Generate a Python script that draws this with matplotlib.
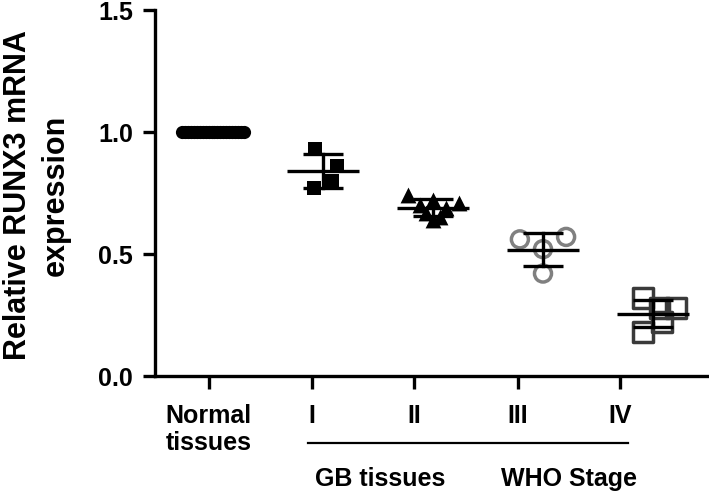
import numpy as np
import matplotlib.pyplot as plt

plt.rcParams['font.family'] = ['Liberation Sans', 'DejaVu Sans']
plt.rcParams['font.weight'] = 'bold'

# values
normal = [1.0] * 22
stage_1 = [0.93, 0.86, 0.77, 0.80]
stage_2 = [0.74, 0.72, 0.71, 0.70, 0.69, 0.67, 0.65, 0.64]
stage_3 = [0.56, 0.57, 0.52, 0.42]
stage_4 = [0.32, 0.28, 0.28, 0.22, 0.18]
groups = [normal, stage_1, stage_2, stage_3, stage_4]
tick_labels = ['Normal\ntissues', 'I', 'II', 'III', 'IV']

# horizontal scatter of the points within each column
jitter = [
    list(np.linspace(-0.28, 0.28, 22)),
    [-0.07, 0.13, -0.08, 0.08],
    [-0.23, 0.0, 0.24, -0.12, 0.12, -0.06, 0.06, 0.0],
    [-0.21, 0.21, 0.0, 0.0],
    [-0.09, 0.06, 0.21, 0.08, -0.09],
]
group_x = [0, 1, 2, 3, 4]
tick_x = [-0.04, 0.9, 1.83, 2.77, 3.7]

styles = [
    dict(marker='o', s=90, c='black', edgecolors='black', linewidths=0),
    dict(marker='s', s=90, c='black', edgecolors='black', linewidths=0),
    dict(marker='^', s=130, c='black', edgecolors='black', linewidths=0),
    dict(marker='o', s=150, facecolors='none', edgecolors='#808080', linewidths=2.5),
    dict(marker='s', s=200, facecolors='none', edgecolors='#3a3a3a', linewidths=2.5),
]

fig = plt.figure(figsize=(7.09, 4.98), dpi=100)
ax = fig.add_axes([155 / 709, 122 / 498, 554 / 709, 366 / 498])

for gx, vals, jit, st in zip(group_x, groups, jitter, styles):
    vals = np.array(vals)
    ax.scatter(gx + np.array(jit), vals, zorder=3, clip_on=False, **st)
    m = vals.mean()
    sd = vals.std(ddof=1)
    ax.plot([gx - 0.33, gx + 0.33], [m, m], color='black', lw=2.4, zorder=4,
            solid_capstyle='butt')
    if sd > 0:
        ax.plot([gx, gx], [m - sd, m + sd], color='black', lw=2.4, zorder=4)
        for yy in (m - sd, m + sd):
            ax.plot([gx - 0.18, gx + 0.18], [yy, yy], color='black', lw=2.4,
                    zorder=4, solid_capstyle='butt')

ax.set_xlim(-0.527, 4.509)
ax.set_ylim(0, 1.5)
ax.set_yticks([0.0, 0.5, 1.0, 1.5])
ax.set_yticklabels(['0.0', '0.5', '1.0', '1.5'])
ax.set_xticks(tick_x)
ax.set_xticklabels(tick_labels, linespacing=1.15)
ax.tick_params(axis='both', labelsize=18, width=2.4, length=9, direction='out')
ax.tick_params(axis='y', pad=7)
ax.tick_params(axis='x', pad=11)
for sp in ['top', 'right']:
    ax.spines[sp].set_visible(False)
for sp in ['left', 'bottom']:
    ax.spines[sp].set_linewidth(2.4)

fig.text(37 / 709, 1 - 195 / 498, 'Relative RUNX3 mRNA\nexpression', rotation=90,
         ha='center', va='center', fontsize=22, fontweight='bold',
         multialignment='center', linespacing=1.35)

fig.add_artist(plt.Line2D([308 / 709, 628 / 709], [1 - 443 / 498, 1 - 443 / 498],
                          color='black', lw=1.6))
fig.text(380 / 709, 1 - 479 / 498, 'GB tissues', ha='center', va='center',
         fontsize=18, fontweight='bold')
fig.text(569 / 709, 1 - 479 / 498, 'WHO Stage', ha='center', va='center',
         fontsize=18, fontweight='bold')

plt.savefig('out.png', dpi=100)
